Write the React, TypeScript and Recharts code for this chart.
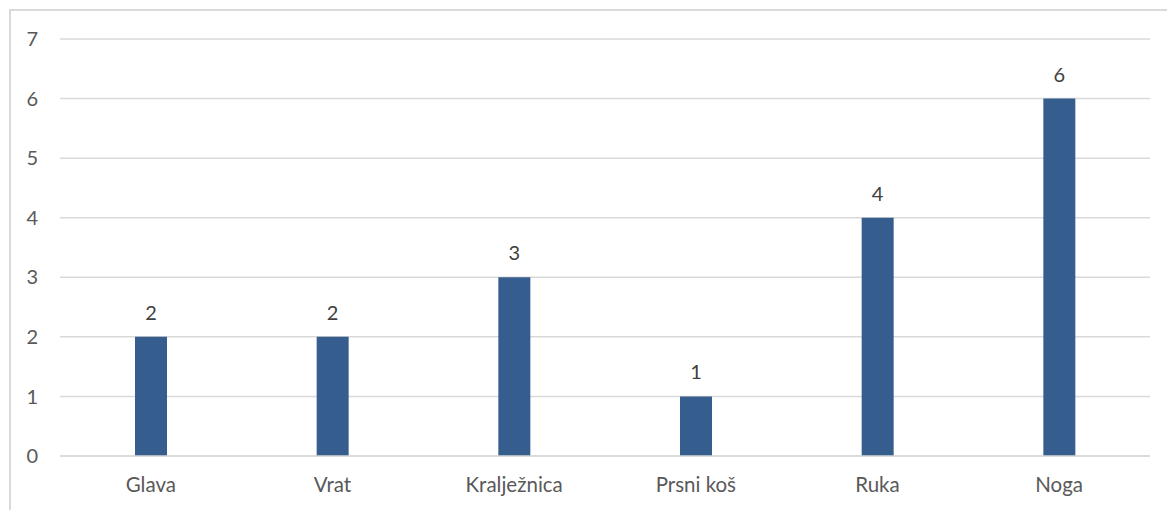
import React from "react";
import { BarChart, Bar, XAxis, YAxis, CartesianGrid, LabelList } from "recharts";

// dijelovi tijela i broj ozljeda
const categories = ["Glava", "Vrat", "Kralježnica", "Prsni koš", "Ruka", "Noga"];
const counts = [2, 2, 3, 1, 4, 6];
const yTicks = [0, 1, 2, 3, 4, 5, 6, 7];

const data = categories.map((name, i) => ({ name, value: counts[i] }));

const FONT = "Lato, 'Open Sans', sans-serif";

export default function App() {
  return (
    <div
      style={{
        position: "absolute",
        left: 0,
        top: 0,
        width: 1167,
        height: 510,
        background: "#fff",
        overflow: "hidden",
        fontFamily: FONT,
      }}
    >
      {/* rub grafikona */}
      <div
        style={{
          position: "absolute",
          left: 9,
          top: 9,
          width: 1200,
          height: 520,
          borderTop: "2px solid #d9d9d9",
          borderLeft: "2px solid #d9d9d9",
        }}
      />
      <div style={{ position: "absolute", left: 0, top: 0 }}>
        <BarChart
          width={1167}
          height={510}
          data={data}
          margin={{ top: 39, right: 17, left: 0, bottom: 24 }}
        >
          <CartesianGrid vertical={false} stroke="#d9d9d9" strokeWidth={1.5} />
          <XAxis
            dataKey="name"
            height={30}
            axisLine={{ stroke: "#d9d9d9", strokeWidth: 1.5 }}
            tickLine={false}
            tickMargin={15}
            tick={{ fontSize: 20.5, fill: "#595959", fontFamily: FONT }}
            interval={0}
          />
          <YAxis
            width={60}
            domain={[0, 7]}
            ticks={yTicks}
            axisLine={false}
            tickLine={false}
            tickMargin={16}
            tick={{ fontSize: 20, fill: "#595959", fontFamily: FONT }}
          />
          <Bar dataKey="value" fill="#355e8f" barSize={32} isAnimationActive={false}>
            <LabelList
              dataKey="value"
              position="top"
              offset={17}
              style={{ fontSize: 20, fill: "#404040", fontFamily: FONT }}
            />
          </Bar>
        </BarChart>
      </div>
    </div>
  );
}
